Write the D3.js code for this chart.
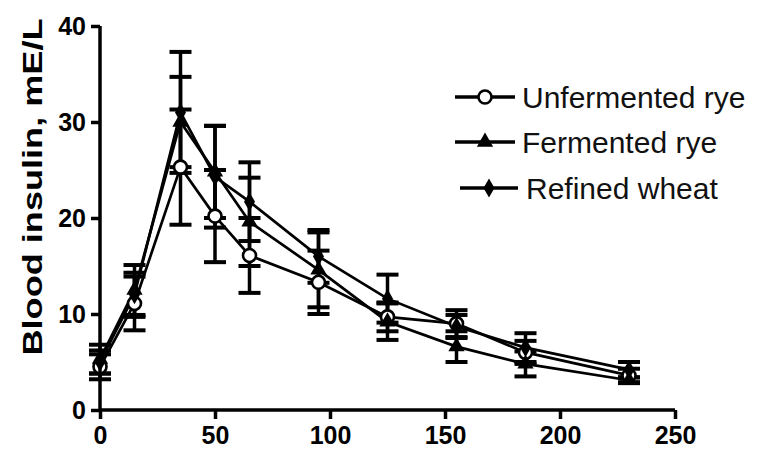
<!DOCTYPE html>
<html><head><meta charset="utf-8">
<script src="https://cdn.jsdelivr.net/npm/d3@7"></script>
<style>html,body{margin:0;padding:0;background:#fff;}svg{display:block;}</style>
</head><body>
<svg id="chart" width="757" height="453"></svg>
<script>
const times = [0, 15, 35, 50, 65, 95, 125, 155, 185, 230];
const seriesNames = ["Unfermented rye", "Fermented rye", "Refined wheat"];
const unfermented = [4.5, 11.1, 25.3, 20.2, 16.1, 13.3, 9.7, 9.0, 6.0, 3.6];
const unfermentedErr = [1.3, 2.8, 6.0, 4.8, 3.9, 3.3, 1.5, 1.4, 1.2, 0.7];
const fermented = [5.3, 12.5, 30.0, 24.8, 19.6, 14.6, 9.2, 6.6, 4.8, 3.1];
const fermentedErr = [1.5, 2.6, 4.7, 4.8, 4.6, 3.9, 1.9, 1.6, 1.3, 0.3];
const refined = [5.0, 12.0, 31.0, 24.3, 21.7, 16.0, 11.6, 8.7, 6.5, 4.2];
const refinedErr = [1.2, 2.3, 6.3, 5.3, 4.1, 2.75, 2.5, 1.2, 1.5, 0.8];
const xTicks = [0, 50, 100, 150, 200, 250];
const yTicks = [0, 10, 20, 30, 40];
const yLabel = "Blood insulin, mE/L";

const svg = d3.select("#chart");
const x = d3.scaleLinear().domain([0, 250]).range([100, 675]);
const y = d3.scaleLinear().domain([0, 40]).range([410, 26]);

const series = [
  {name: seriesNames[0], vals: unfermented, err: unfermentedErr, shape: "circle"},
  {name: seriesNames[1], vals: fermented, err: fermentedErr, shape: "triangle"},
  {name: seriesNames[2], vals: refined, err: refinedErr, shape: "diamond"}
];

function marker(g, shape, cx, cy, scale) {
  scale = scale || 1;
  if (shape === "circle") {
    g.append("circle").attr("cx", cx).attr("cy", cy).attr("r", 6.5 * scale)
      .attr("fill", "#fff").attr("stroke", "#000").attr("stroke-width", 2.6);
  } else if (shape === "triangle") {
    g.append("path").attr("transform", `translate(${cx},${cy})`)
      .attr("d", d3.symbol().type(d3.symbolTriangle).size(115 * scale * scale)()).attr("fill", "#000");
  } else {
    g.append("path").attr("transform", `translate(${cx},${cy})`)
      .attr("d", d3.symbol().type(d3.symbolDiamond).size(105 * scale * scale)()).attr("fill", "#000");
  }
}

// error bars
const eg = svg.append("g");
series.forEach(s => {
  times.forEach((t, i) => {
    const cx = x(t), top = y(s.vals[i] + s.err[i]), bot = y(s.vals[i] - s.err[i]);
    eg.append("line").attr("x1", cx).attr("x2", cx).attr("y1", top).attr("y2", bot)
      .attr("stroke", "#000").attr("stroke-width", 3.5);
    [top, bot].forEach(yy => eg.append("line").attr("x1", cx - 11).attr("x2", cx + 11)
      .attr("y1", yy).attr("y2", yy).attr("stroke", "#000").attr("stroke-width", 4));
  });
});

// lines
const line = d3.line().x((d, i) => x(times[i])).y(d => y(d));
series.forEach(s => {
  svg.append("path").datum(s.vals).attr("d", line).attr("fill", "none")
    .attr("stroke", "#000").attr("stroke-width", 2.7);
});
// markers
series.forEach(s => {
  const g = svg.append("g");
  s.vals.forEach((v, i) => marker(g, s.shape, x(times[i]), y(v)));
});

// axes
const xAxis = svg.append("g").attr("transform", "translate(0,410)")
  .call(d3.axisBottom(x).tickValues(xTicks).tickSize(9).tickPadding(7).tickFormat(d3.format("d")));
const yAxis = svg.append("g").attr("transform", "translate(100,0)")
  .call(d3.axisLeft(y).tickValues(yTicks).tickSize(9).tickPadding(5).tickFormat(d3.format("d")));
[xAxis, yAxis].forEach(a => {
  a.select(".domain").attr("stroke", "#000").attr("stroke-width", 3.5)
    .attr("d", a === xAxis ? "M100,0H675" : "M0,26V410");
  a.selectAll(".tick line").attr("stroke", "#000").attr("stroke-width", 3.5);
  a.selectAll(".tick text").attr("fill", "#000")
    .style("font-family", "'Liberation Sans', Arial, sans-serif")
    .style("font-weight", "bold").style("font-size", "25px");
});

svg.append("text").attr("transform", "translate(42,187) rotate(-90)")
  .attr("text-anchor", "middle")
  .style("font-family", "'Liberation Sans', Arial, sans-serif")
  .style("font-weight", "bold").style("font-size", "27px")
  .attr("textLength", 337).attr("lengthAdjust", "spacingAndGlyphs")
  .text(yLabel);

// legend
const legY = [97, 142, 188];
const legX1 = [455, 455, 460], legX2 = [515, 515, 518], txtX = [522, 522, 526];
series.forEach((s, i) => {
  const g = svg.append("g");
  g.append("line").attr("x1", legX1[i]).attr("x2", legX2[i]).attr("y1", legY[i]).attr("y2", legY[i])
    .attr("stroke", "#000").attr("stroke-width", 3.5);
  marker(g, s.shape, (legX1[i] + legX2[i]) / 2, legY[i], 1);
  g.append("text").attr("x", txtX[i]).attr("y", legY[i]).attr("dy", "0.36em")
    .style("font-family", "'Liberation Sans', Arial, sans-serif")
    .style("font-size", "30px").attr("fill", "#111").text(s.name);
});
</script>
</body></html>
